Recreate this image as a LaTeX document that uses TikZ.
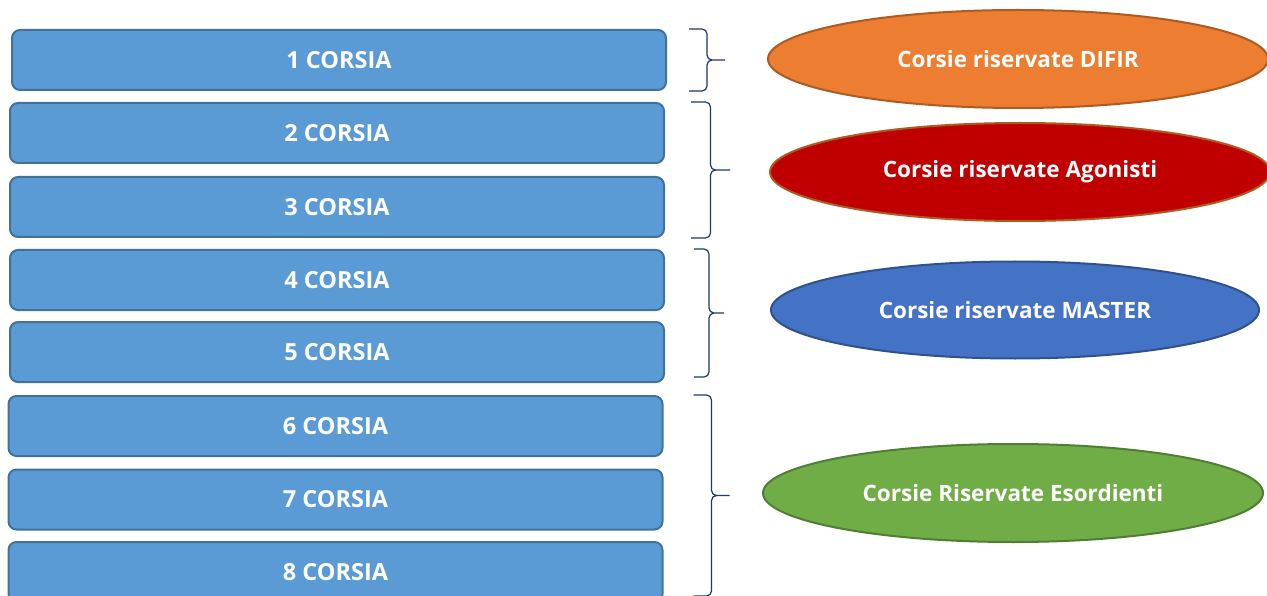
\documentclass[tikz,border=0pt]{standalone}
\usepackage{fontspec}
\setmainfont{Open Sans}
\usetikzlibrary{shapes.geometric,calc}
\definecolor{lanefill}{HTML}{5B9BD5}
\definecolor{laneedge}{HTML}{41719C}
\definecolor{bracecol}{HTML}{1F3864}
\definecolor{difirfill}{HTML}{ED7D31}
\definecolor{difiredge}{HTML}{AE5A21}
\definecolor{agofill}{HTML}{C00000}
\definecolor{masterfill}{HTML}{4472C4}
\definecolor{masteredge}{HTML}{2F528F}
\definecolor{esofill}{HTML}{70AD47}
\definecolor{esoedge}{HTML}{507E32}
\newcommand{\lanefont}{\fontsize{23.5}{27}\selectfont\bfseries}
\newcommand{\groupfont}{\fontsize{22.5}{26}\selectfont\bfseries}

\begin{document}
\begin{tikzpicture}[x=1pt,y=-1pt,
	lane/.style={draw=laneedge,fill=lanefill,line width=2pt,rounded corners=8pt,minimum width=654pt,minimum height=60pt,inner sep=0pt,text=white,font=\lanefont},
	group/.style={ellipse,line width=2pt,minimum width=500pt,minimum height=98pt,inner sep=0pt,text=white,font=\groupfont},
	bracket/.style={draw=bracecol,line width=1.2pt,rounded corners=5pt,
		to path={-- ++(#1/2,0) |- ($(\tikztostart)!0.5!(\tikztotarget)+(#1,0)$)
			($(\tikztostart)!0.5!(\tikztotarget)+(#1,0)$) -| ($(\tikztotarget)+(#1/2,0)$) -- (\tikztotarget)}}]
	\useasboundingbox (0,0) rectangle (1267,596);
	\foreach \n/\x/\y in {1/339/60,2/337/133,3/337/207,4/337/280,5/337/352,6/335.5/426,7/335.5/499.5,8/335.5/572}
		\node[lane] (l\n) at (\x,\y) {\n\ CORSIA};
	\node[group,draw=difiredge,fill=difirfill] (difir) at (1018,59) {Corsie riservate DIFIR};
	\node[group,draw=difiredge,fill=agofill] (agonisti) at (1020,172) {Corsie riservate Agonisti};
	\node[group,draw=masteredge,fill=masterfill,minimum width=488pt,minimum height=97pt] (master) at (1015,310) {Corsie riservate MASTER};
	\node[group,draw=esoedge,fill=esofill] (esordienti) at (1013,493) {Corsie Riservate Esordienti};
	\draw[bracket=36] ([xshift=22pt]l1.north east) to ([xshift=22pt]l1.south east);
	\draw[bracket=39] ([xshift=26pt]l2.north east) to ([xshift=26pt]l3.south east);
	\draw[bracket=30] ([xshift=29pt]l4.north east) to ([xshift=29pt,yshift=6pt]l5.south east);
	\draw[bracket=36] ([xshift=30pt]l6.north east) to ([xshift=30pt,yshift=7pt]l8.south east);
\end{tikzpicture}
\end{document}
